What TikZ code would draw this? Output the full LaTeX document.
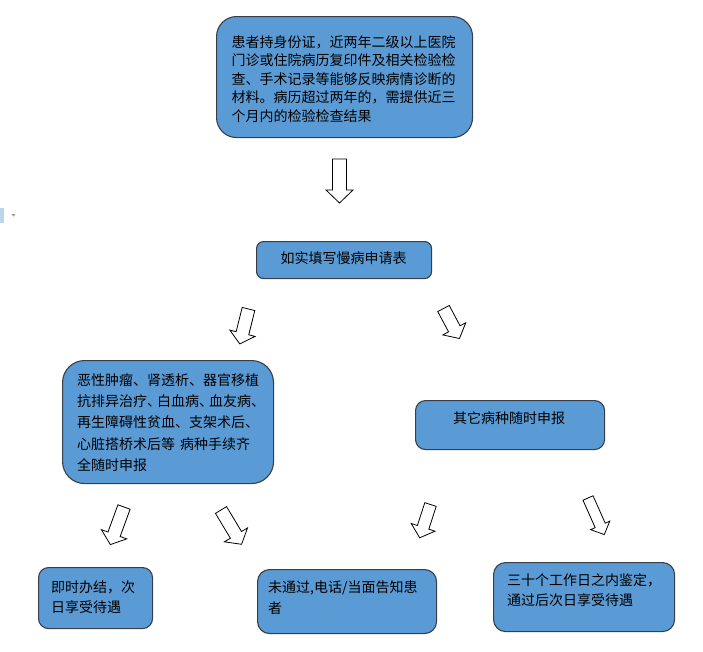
\documentclass[tikz,border=0pt]{standalone}
\usepackage{fontspec}
\newfontfamily\cjk{Noto Sans CJK SC}
\definecolor{boxfill}{RGB}{91,155,213}
\definecolor{boxline}{RGB}{55,62,72}
\definecolor{iconblue}{RGB}{190,212,236}
\definecolor{icongray}{RGB}{150,150,150}
\tikzset{
  box/.style={draw=boxline, line width=1.1pt, fill=boxfill, inner sep=0pt, anchor=north west},
  txt/.style={font=\cjk\fontsize{14}{#1}\selectfont, inner sep=0pt, align=left, text=black},
  txt/.default={18.6},
  arr/.style={draw=black, fill=white, line width=0.8pt, line join=miter},
}
\newcommand\blockarr[8]{%
  \coordinate (#1) at (#2,#3);
  \begin{scope}[shift={(#1)},rotate=#4]
    \draw[arr] (-#6,0) -- (#6,0) -- (#6,#5-#8) -- (#7,#5-#8) -- (0,#5)
      -- (-#7,#5-#8) -- (-#6,#5-#8) -- cycle;
  \end{scope}}
\begin{document}
\begin{tikzpicture}[x=1pt,y=-1pt]
\useasboundingbox (0,0) rectangle (703,651);
% small artefacts at the left edge
\fill[iconblue] (0,208) rectangle (4,223);
\fill[icongray] (11.5,214) -- (15.5,214) -- (13.5,216.5) -- cycle;

% boxes
\node[box, rounded corners=20pt, minimum width=256pt, minimum height=121pt] (b1) at (216,16) {};
\node[box, rounded corners=7pt, minimum width=175pt, minimum height=37pt] (b2) at (256,241) {};
\node[box, rounded corners=22pt, minimum width=211pt, minimum height=123pt] (b3) at (62,360) {};
\node[box, rounded corners=10pt, minimum width=189pt, minimum height=49pt] (b4) at (415,400) {};
\node[box, rounded corners=10pt, minimum width=114pt, minimum height=61pt] (b5) at (38,567) {};
\node[box, rounded corners=12pt, minimum width=179pt, minimum height=64pt] (b6) at (257,569) {};
\node[box, rounded corners=12pt, minimum width=181pt, minimum height=69pt] (b7) at (493,562) {};

% texts
\node[txt, anchor=west] (t1) at (231.5,79) {患者持身份证，近两年二级以上医院\\门诊或住院病历复印件及相关检验检\\查、手术记录等能够反映病情诊断的\\材料。病历超过两年的，需提供近三\\个月内的检验检查结果};
\node[txt] (t2) at (343.5,258.3) {如实填写慢病申请表};
\node[txt=21.25, anchor=west] (t3) at (77,422.5) {恶性肿瘤、肾透析、器官移植\\抗排异治疗\makebox[10pt][l]{、}白血病\makebox[10pt][l]{、}血友病\makebox[10pt][l]{、}\\再生障碍性贫血、支架术后、\\心脏搭桥术后等\hspace{5pt}病种手续齐\\全随时申报};
\node[txt] (t4) at (509,418) {其它病种随时申报};
\node[txt=20, anchor=west] (t5) at (51,597) {即时办结，次\\日享受待遇};
\node[txt=21, anchor=west] (t6) at (268,597.5) {未通过,电话/当面告知患\\者};
\node[txt=20, anchor=west] (t7) at (507,590) {三十个工作日之内鉴定，\\通过后次日享受待遇};

% block arrows
\blockarr{a1}{339.5}{159}{0}{44}{7}{13.5}{13}
\blockarr{a2}{248.5}{309}{-14}{36}{6.5}{13}{11}
\blockarr{a3}{443.5}{308.5}{28}{34}{6.5}{13}{11}
\blockarr{a4}{124}{507}{-20}{40}{6.5}{13.5}{11}
\blockarr{a5}{221}{510}{31}{40}{6.5}{13.5}{11}
\blockarr{a6}{430.5}{504.5}{-18}{35}{6}{12.5}{11}
\blockarr{a7}{588}{498}{24}{40}{5.5}{10.5}{10}
\end{tikzpicture}
\end{document}
